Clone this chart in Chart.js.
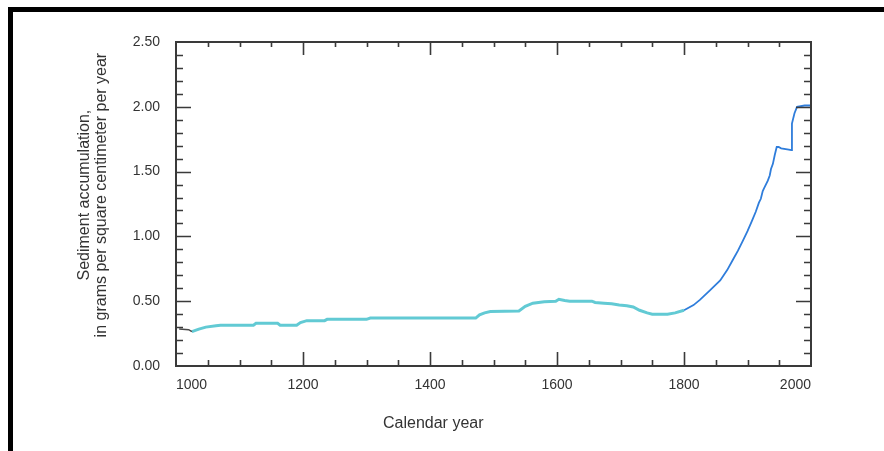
<!DOCTYPE html>
<html>
<head>
<meta charset="utf-8">
<script src="https://cdn.jsdelivr.net/npm/chart.js@4"></script>
<style>
  html, body { margin: 0; padding: 0; background: #fff; }
  #wrap { position: relative; width: 884px; height: 451px; overflow: hidden; }
  #frame { position: absolute; left: 8px; top: 7px; right: 0; bottom: -10px;
           border-top: 5px solid #000; border-left: 5px solid #000; }
  #xtitle { position: absolute; left: 383px; top: 414px; font: 16px "Liberation Sans", Arial, sans-serif;
            color: #333; white-space: nowrap; }
  canvas { position: absolute; left: 0; top: 0; }
</style>
</head>
<body>
<div id="wrap">
  <div id="frame"></div>
  <canvas id="my-chart" width="884" height="451"></canvas>
  <div id="xtitle">Calendar year</div>
</div>
<script>
// data
//////////////////////////

// first little dark piece at the start of the record
const startYears = [1005, 1020, 1025]
const startValues = [0.285, 0.28, 0.265]

// cyan part, 1025 - 1800
const oldYears = [1025, 1036, 1047, 1063, 1070, 1122, 1126, 1160, 1164, 1190, 1196, 1206, 1234, 1238, 1300, 1306,
    1472, 1478, 1486, 1495, 1540, 1550, 1562, 1580, 1598, 1603, 1612, 1620, 1655, 1660, 1674, 1686, 1698, 1710,
    1720, 1730, 1742, 1750, 1774, 1786, 1800]
const oldValues = [0.265, 0.285, 0.30, 0.31, 0.315, 0.315, 0.33, 0.33, 0.315, 0.315, 0.335, 0.35, 0.35, 0.36, 0.36, 0.37,
    0.37, 0.395, 0.41, 0.42, 0.425, 0.46, 0.485, 0.495, 0.50, 0.515, 0.505, 0.50, 0.50, 0.49, 0.485, 0.48, 0.47, 0.465,
    0.455, 0.43, 0.41, 0.40, 0.40, 0.41, 0.43]

// blue part, 1800 - 2000
const recentYears = [1800, 1815, 1825, 1840, 1857, 1868, 1877, 1885, 1893, 1900, 1907, 1913, 1918, 1921, 1924, 1926,
    1932, 1935, 1937, 1940, 1943, 1946, 1949, 1953, 1965, 1969, 1970, 1974, 1978, 1990, 2000]
const recentValues = [0.43, 0.47, 0.51, 0.58, 0.66, 0.74, 0.82, 0.89, 0.97, 1.04, 1.12, 1.19, 1.26, 1.29, 1.35, 1.37,
    1.43, 1.47, 1.52, 1.56, 1.63, 1.69, 1.69, 1.68, 1.67, 1.665, 1.87, 1.95, 2.00, 2.01, 2.01]

const xTicks = [1000, 1200, 1400, 1600, 1800, 2000]
const yTicks = [0, 0.5, 1.0, 1.5, 2.0, 2.5]

const fontFamily = '"Liberation Sans", Arial, sans-serif'

function toPoints(xs, ys){
    return xs.map((x, i) => ({x: x, y: ys[i]}))
}

// frame + inward tick marks on all four sides
////////////////////////////////////////////////
const frameTicks = {
    id: 'frameTicks',
    afterDraw(chart){
        const ctx = chart.ctx
        const a = chart.chartArea
        const xs = chart.scales.x
        const ys = chart.scales.y
        ctx.save()
        ctx.strokeStyle = '#3a3a3a'
        ctx.lineWidth = 2
        ctx.strokeRect(a.left, a.top, a.right - a.left, a.bottom - a.top)
        ctx.lineWidth = 1.6
        ctx.beginPath()
        for (let yr = 1050; yr < 2000; yr += 50){
            let px = Math.round(xs.getPixelForValue(yr)) + 0.5
            let len = (yr % 200 === 0) ? 14 : 6
            ctx.moveTo(px, a.bottom); ctx.lineTo(px, a.bottom - len)
            ctx.moveTo(px, a.top); ctx.lineTo(px, a.top + len - 1)
        }
        for (let k = 1; k < 25; k++){
            let py = Math.round(ys.getPixelForValue(k / 10)) + 0.5
            let len = (k % 5 === 0) ? 15 : 7
            ctx.moveTo(a.left, py); ctx.lineTo(a.left + len, py)
            ctx.moveTo(a.right, py); ctx.lineTo(a.right - len, py)
        }
        ctx.stroke()
        ctx.restore()
    }
}

let ctx = document.getElementById('my-chart').getContext('2d')

const config = {
    type: 'line',
    data: {
        datasets: [
            {
                data: toPoints(startYears, startValues),
                borderColor: '#4a4a4a',
                borderWidth: 1.5
            },
            {
                data: toPoints(oldYears, oldValues),
                borderColor: '#62cad4',
                borderWidth: 3
            },
            {
                data: toPoints(oldYears, oldValues),
                borderColor: '#2f7ddb',
                borderWidth: 1.2,
                borderDash: [2, 9]
            },
            {
                data: toPoints(recentYears, recentValues),
                borderColor: '#2f7ddb',
                borderWidth: 1.8
            }
        ]
    },
    options: {
        responsive: false,
        animation: false,
        layout: { padding: { left: 0, top: 42, right: 73, bottom: 0 } },
        elements: { point: { radius: 0 }, line: { tension: 0 } },
        plugins: { legend: { display: false }, tooltip: { enabled: false } },
        scales: {
            x: {
                type: 'linear',
                min: 1000,
                max: 2000,
                afterBuildTicks: s => { s.ticks = xTicks.map(v => ({value: v})) },
                afterFit: s => { s.height = 451 - 366 },
                grid: { display: false, drawTicks: false },
                border: { display: false },
                ticks: {
                    align: 'inner',
                    padding: 11,
                    color: '#333',
                    font: { family: fontFamily, size: 14 },
                    callback: v => String(v)
                }
            },
            y: {
                min: 0,
                max: 2.5,
                afterBuildTicks: s => { s.ticks = yTicks.map(v => ({value: v})) },
                afterFit: s => { s.width = 176 },
                grid: { display: false, drawTicks: false },
                border: { display: false },
                ticks: {
                    padding: 16,
                    color: '#333',
                    font: { family: fontFamily, size: 14 },
                    callback: v => Number(v).toFixed(2)
                },
                title: {
                    display: true,
                    // leading spaces nudge the centred text up a little, like the original
                    text: ['    Sediment accumulation,', '    in grams per square centimeter per year'],
                    color: '#333',
                    font: { family: fontFamily, size: 16, lineHeight: 1.05 },
                    padding: { top: 76 }
                }
            }
        }
    },
    plugins: [frameTicks]
}

let chart = new Chart(ctx, config)
</script>
</body>
</html>
